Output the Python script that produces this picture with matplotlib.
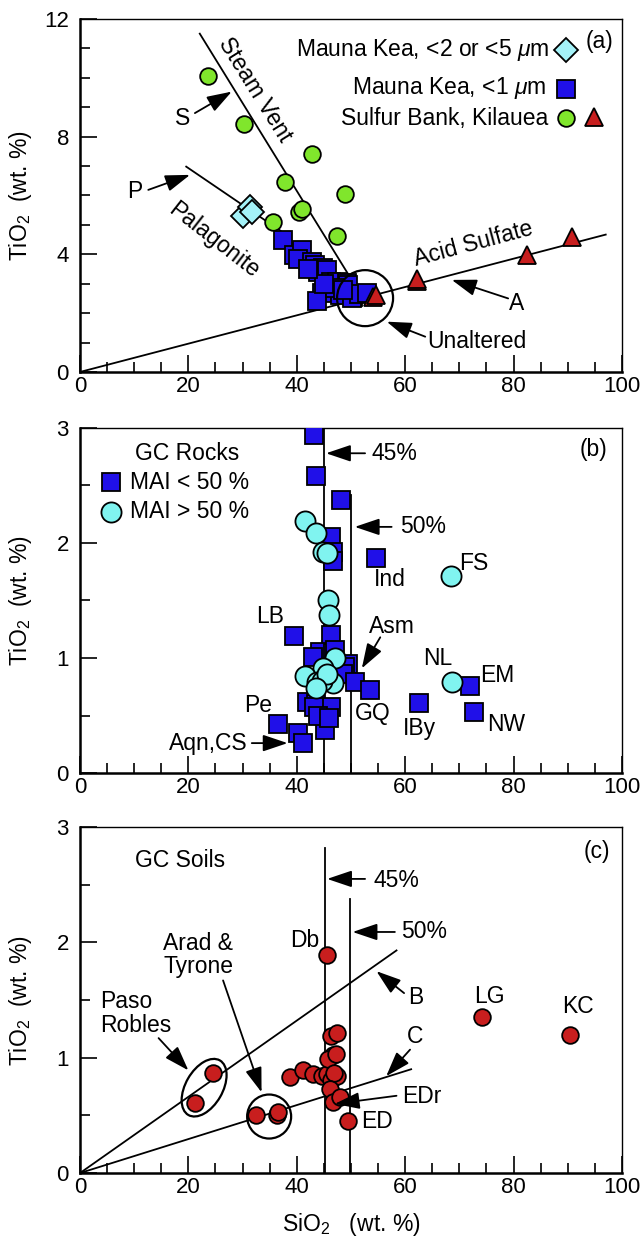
import matplotlib
matplotlib.use("Agg")
import matplotlib.pyplot as plt
from matplotlib.patches import Ellipse
from matplotlib.transforms import ScaledTranslation
from matplotlib.ticker import MultipleLocator

plt.rcParams['font.family'] = ['Liberation Sans', 'DejaVu Sans']
plt.rcParams['mathtext.fontset'] = 'custom'
plt.rcParams['mathtext.rm'] = 'Liberation Sans'
plt.rcParams['mathtext.it'] = 'Liberation Sans:italic'

# ------------------------------------------------------------
# (a) Mauna Kea / Sulfur Bank data (SiO2, TiO2 wt.%)
# ------------------------------------------------------------
mk25_x = [30.0, 31.3, 31.8]
mk25_y = [5.30, 5.62, 5.45]

mk1_x = [37.5, 39.4, 40.9, 40.3, 42.8, 43.4, 44.8, 43.9, 45.5, 46.4, 47.4, 49.2,
         49.5, 46.1, 44.6, 43.7, 48.0, 50.4, 50.1, 51.5, 53.0, 47.0, 45.0, 42.0, 48.5]
mk1_y = [4.47, 3.98, 4.15, 3.85, 3.75, 3.64, 3.54, 3.40, 3.47, 3.05, 3.07, 3.02,
         2.96, 2.79, 2.70, 2.40, 2.62, 2.56, 2.51, 2.65, 2.69, 2.85, 3.00, 3.50, 2.80]

sb_circ_x = [23.6, 30.3, 42.8, 37.8, 48.9, 40.4, 41.0, 35.7, 47.5]
sb_circ_y = [10.07, 8.44, 7.41, 6.47, 6.04, 5.45, 5.54, 5.11, 4.63]

sb_tri_x = [54.0, 54.7, 62.2, 62.2, 82.4, 90.7]
sb_tri_y = [2.55, 2.62, 3.10, 3.17, 3.98, 4.60]

steam_x = [22.1, 49.4]
steam_y = [11.5, 3.35]
palag_x = [19.6, 37.0]
palag_y = [6.98, 4.80]
acid_x = [0.0, 97.0]
acid_y = [0.0, 4.67]

# ------------------------------------------------------------
# (b) GC rocks
# ------------------------------------------------------------
mai_lo_x = [43.2, 43.5, 48.2, 46.4, 46.7, 46.7, 54.7, 39.4, 46.4, 44.3, 43.0, 46.7,
            47.0, 49.5, 48.9, 48.6, 50.7, 53.5, 62.6, 72.0, 72.7, 41.8, 43.5, 44.9,
            46.4, 43.1, 45.2, 36.6, 40.3, 41.1, 44.0, 46.0]
mai_lo_y = [2.94, 2.58, 2.37, 2.05, 1.92, 1.84, 1.87, 1.19, 1.20, 1.05, 1.01, 1.04,
            1.07, 0.95, 0.92, 0.86, 0.79, 0.72, 0.61, 0.76, 0.53, 0.62, 0.60, 0.53,
            0.57, 0.57, 0.37, 0.43, 0.35, 0.26, 0.50, 0.48]

mai_hi_x = [41.6, 43.5, 44.9, 45.5, 45.8, 46.0, 47.0, 44.9, 41.5, 46.7, 43.7, 44.7,
            45.5, 43.5, 68.4, 68.6]
mai_hi_y = [2.19, 2.09, 1.92, 1.91, 1.50, 1.37, 1.00, 0.91, 0.84, 0.78, 0.79, 0.80,
            0.86, 0.74, 1.71, 0.79]

# ------------------------------------------------------------
# (c) GC soils
# ------------------------------------------------------------
soil_x = [45.5, 24.6, 21.3, 32.4, 36.3, 36.5, 38.7, 41.1, 42.9, 44.6, 45.5, 46.4,
          47.5, 46.7, 45.8, 46.4, 47.4, 46.9, 46.1, 46.7, 47.9, 47.2, 49.5, 74.2, 90.5]
soil_y = [1.89, 0.87, 0.61, 0.50, 0.50, 0.53, 0.83, 0.89, 0.86, 0.84, 0.86, 1.19,
          1.21, 1.02, 0.99, 0.81, 0.84, 0.87, 0.73, 0.62, 0.66, 1.03, 0.45, 1.35, 1.20]

line_b_x = [0.0, 58.4]
line_b_y = [0.0, 1.93]
line_c_x = [0.0, 61.1]
line_c_y = [0.0, 0.90]

# colours
c_green = "#80e62c"
c_blue = "#2010e8"
c_cyan_a = "#a4f2f8"
c_cyan_b = "#80f4f0"
c_red = "#c81e1e"

FS = 16.5
TFS = 16

fig = plt.figure(figsize=(6.42, 12.47), dpi=100)
ax_a = fig.add_axes([0.1246, 0.7017, 0.8442, 0.2831])
ax_b = fig.add_axes([0.1246, 0.3801, 0.8442, 0.2767])
ax_c = fig.add_axes([0.1246, 0.0593, 0.8442, 0.2775])


def style_axes(ax, ymax, ymaj, ymin):
    ax.set_xlim(0, 100)
    ax.set_ylim(0, ymax)
    ax.xaxis.set_major_locator(MultipleLocator(20))
    ax.xaxis.set_minor_locator(MultipleLocator(5))
    ax.yaxis.set_major_locator(MultipleLocator(ymaj))
    ax.yaxis.set_minor_locator(MultipleLocator(ymin))
    ax.tick_params(which='both', direction='in', top=False, right=False, width=1.2)
    ax.tick_params(which='major', length=12)
    ax.tick_params(which='minor', length=7)
    ax.tick_params(axis='x', labelsize=TFS, pad=3)
    ax.tick_params(axis='y', labelsize=TFS, pad=8)
    for s in ['left', 'bottom']:
        ax.spines[s].set_linewidth(1.8)
    for s in ['top', 'right']:
        ax.spines[s].set_linewidth(1.0)
    ax.set_ylabel("TiO$_2$  (wt. %)", fontsize=16.5)
    ax.yaxis.set_label_coords(-0.085, 0.5)


def ring(ax, x, y, w, h, angle=0):
    tr = fig.dpi_scale_trans + ScaledTranslation(x, y, ax.transData)
    ax.add_patch(Ellipse((0, 0), w / 100, h / 100, angle=angle, transform=tr,
                         fill=False, ec='k', lw=1.6, zorder=6))


def arrow(ax, tip, tail):
    ax.annotate("", xy=tip, xytext=tail,
                arrowprops=dict(arrowstyle="-|>,head_length=0.8,head_width=0.27",
                                color='k', lw=1.3, shrinkA=0, shrinkB=0,
                                mutation_scale=19), zorder=7)


mk = dict(markeredgecolor='k', markeredgewidth=1.3, linestyle='none')

# ---------------- panel (a) ----------------
ax = ax_a
style_axes(ax, 12, 4, 1)
ax.plot(steam_x, steam_y, color='k', lw=1.3, zorder=1)
ax.plot(palag_x, palag_y, color='k', lw=1.3, zorder=1)
ax.plot(acid_x, acid_y, color='k', lw=1.3, zorder=1)
ax.plot(mk25_x, mk25_y, marker='D', markersize=12.5, markerfacecolor=c_cyan_a, zorder=2, **mk)
ax.plot(sb_circ_x, sb_circ_y, marker='o', markersize=12, markerfacecolor=c_green, zorder=3, **mk)
ax.plot(mk1_x, mk1_y, marker='s', markersize=13.5, markerfacecolor=c_blue, zorder=4, **mk)
ax.plot(sb_tri_x, sb_tri_y, marker='^', markersize=13.5, markerfacecolor=c_red, zorder=5, **mk)
ring(ax, 52.6, 2.51, 56, 56)

ax.text(32.3, 9.6, "Steam Vent", rotation=-58, fontsize=FS, ha='center', va='center')
ax.text(24.6, 4.49, "Palagonite", rotation=-38, fontsize=FS, ha='center', va='center')
ax.text(72.5, 4.37, "Acid Sulfate", rotation=15, fontsize=FS, ha='center', va='center')
ax.text(19.0, 8.6, "S", fontsize=FS, ha='center', va='center')
arrow(ax, (28.0, 9.53), (21.2, 8.8))
ax.text(10.1, 6.13, "P", fontsize=FS, ha='center', va='center')
arrow(ax, (20.3, 6.7), (12.6, 6.19))
ax.text(80.6, 2.33, "A", fontsize=FS, ha='center', va='center')
arrow(ax, (68.6, 3.13), (79.0, 2.5))
ax.text(73.2, 1.03, "Unaltered", fontsize=FS, ha='center', va='center')
arrow(ax, (56.6, 1.71), (63.7, 1.2))
ax.text(95.9, 11.24, "(a)", fontsize=FS, ha='center', va='center')

# legend of (a)
ax.text(86.7, 10.93, r"Mauna Kea, <2 or <5 $\mathit{\mu}$m", fontsize=FS, ha='right', va='center')
ax.plot([89.6], [10.93], marker='D', markersize=12.5, markerfacecolor=c_cyan_a, **mk)
ax.text(86.0, 9.65, r"Mauna Kea, <1 $\mathit{\mu}$m", fontsize=FS, ha='right', va='center')
ax.plot([89.6], [9.61], marker='s', markersize=13.5, markerfacecolor=c_blue, **mk)
ax.text(86.4, 8.63, "Sulfur Bank, Kilauea", fontsize=FS, ha='right', va='center')
ax.plot([89.6], [8.63], marker='o', markersize=12, markerfacecolor=c_green, **mk)
ax.plot([94.8], [8.68], marker='^', markersize=13.5, markerfacecolor=c_red, **mk)

# ---------------- panel (b) ----------------
ax = ax_b
style_axes(ax, 3, 1, 0.5)
ax.plot([45, 45], [0, 3], color='k', lw=1.3, zorder=1)
ax.plot([50, 50], [0, 2.42], color='k', lw=1.3, zorder=1)
ax.plot(mai_lo_x, mai_lo_y, marker='s', markersize=12.5, markerfacecolor=c_blue, zorder=3, **mk)
ax.plot(mai_hi_x, mai_hi_y, marker='o', markersize=14.5, markerfacecolor=c_cyan_b, zorder=4, **mk)

arrow(ax, (45.4, 2.78), (52.6, 2.78))
ax.text(53.8, 2.78, "45%", fontsize=FS, ha='left', va='center')
arrow(ax, (50.7, 2.14), (57.5, 2.14))
ax.text(59.0, 2.14, "50%", fontsize=FS, ha='left', va='center')
ax.text(94.7, 2.81, "(b)", fontsize=FS, ha='center', va='center')
ax.text(19.7, 2.78, "GC Rocks", fontsize=FS, ha='center', va='center')
ax.plot([5.8], [2.53], marker='s', markersize=12.5, markerfacecolor=c_blue, **mk)
ax.text(9.2, 2.53, "MAI < 50 %", fontsize=FS, ha='left', va='center')
ax.plot([5.8], [2.27], marker='o', markersize=14.5, markerfacecolor=c_cyan_b, **mk)
ax.text(9.2, 2.27, "MAI > 50 %", fontsize=FS, ha='left', va='center')

ax.text(57.2, 1.68, "Ind", fontsize=FS, ha='center', va='center')
ax.text(72.6, 1.82, "FS", fontsize=FS, ha='center', va='center')
ax.text(35.1, 1.36, "LB", fontsize=FS, ha='center', va='center')
ax.text(57.5, 1.27, "Asm", fontsize=FS, ha='center', va='center')
arrow(ax, (52.0, 0.91), (55.4, 1.18))
ax.text(54.1, 0.52, "GQ", fontsize=FS, ha='center', va='center')
ax.text(62.7, 0.39, "IBy", fontsize=FS, ha='center', va='center')
ax.text(66.1, 1.00, "NL", fontsize=FS, ha='center', va='center')
ax.text(76.9, 0.85, "EM", fontsize=FS, ha='center', va='center')
ax.text(78.7, 0.42, "NW", fontsize=FS, ha='center', va='center')
ax.text(32.9, 0.59, "Pe", fontsize=FS, ha='center', va='center')
ax.text(23.7, 0.26, "Aqn,CS", fontsize=FS, ha='center', va='center')
arrow(ax, (38.3, 0.26), (31.7, 0.26))

# ---------------- panel (c) ----------------
ax = ax_c
style_axes(ax, 3, 1, 0.5)
ax.plot([45.2, 45.2], [0, 2.82], color='k', lw=1.3, zorder=1)
ax.plot([49.8, 49.8], [0, 2.38], color='k', lw=1.3, zorder=1)
ax.plot(line_b_x, line_b_y, color='k', lw=1.3, zorder=1)
ax.plot(line_c_x, line_c_y, color='k', lw=1.3, zorder=1)
ax.plot(soil_x, soil_y, marker='o', markersize=12, markerfacecolor=c_red, zorder=3, **mk)
ring(ax, 22.9, 0.74, 63, 37, angle=60)
ring(ax, 34.9, 0.49, 44, 44)

ax.text(18.5, 2.71, "GC Soils", fontsize=FS, ha='center', va='center')
ax.text(95.3, 2.79, "(c)", fontsize=FS, ha='center', va='center')
arrow(ax, (45.6, 2.55), (52.6, 2.55))
ax.text(54.1, 2.54, "45%", fontsize=FS, ha='left', va='center')
arrow(ax, (50.3, 2.09), (58.1, 2.09))
ax.text(59.3, 2.09, "50%", fontsize=FS, ha='left', va='center')
ax.text(41.5, 2.02, "Db", fontsize=FS, ha='center', va='center')
ax.text(75.6, 1.53, "LG", fontsize=FS, ha='center', va='center')
ax.text(91.8, 1.44, "KC", fontsize=FS, ha='center', va='center')
ax.text(62.0, 1.52, "B", fontsize=FS, ha='center', va='center')
arrow(ax, (54.7, 1.75), (59.8, 1.56))
ax.text(61.8, 1.18, "C", fontsize=FS, ha='center', va='center')
arrow(ax, (56.5, 0.84), (60.9, 1.07))
ax.text(59.5, 0.66, "EDr", fontsize=FS, ha='left', va='center')
arrow(ax, (47.0, 0.60), (58.4, 0.67))
ax.text(51.8, 0.45, "ED", fontsize=FS, ha='left', va='center')
ax.text(3.7, 1.38, "Paso\nRobles", fontsize=FS, ha='left', va='center', linespacing=1.05)
arrow(ax, (20.0, 0.89), (14.5, 1.17))
ax.text(21.8, 1.89, "Arad &\nTyrone", fontsize=FS, ha='center', va='center', linespacing=1.05)
arrow(ax, (33.5, 0.70), (26.4, 1.67))
ax.set_xlabel("SiO$_2$   (wt. %)", fontsize=16.5)
ax.xaxis.set_label_coords(0.5, -0.11)

fig.savefig("out.png", dpi=100)
